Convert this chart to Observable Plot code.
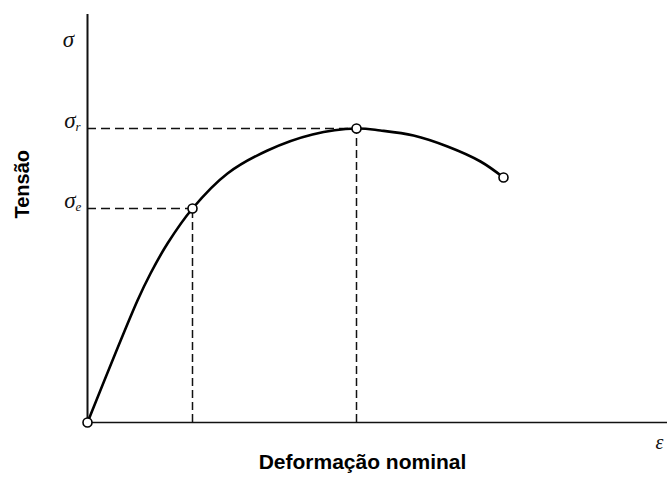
<!DOCTYPE html>
<html>
<head>
<meta charset="utf-8">
<script src="https://cdn.jsdelivr.net/npm/d3@7"></script>
<script src="https://cdn.jsdelivr.net/npm/@observablehq/plot@0.6"></script>
<style>
  html, body { margin: 0; padding: 0; background: #fff; overflow: hidden; }
</style>
</head>
<body>
<div id="chart"></div>
<script>
// Engineering stress–strain curve of a ductile metal (schematic)
const strain = [0, 0.050, 0.063, 0.080, 0.105, 0.140, 0.180, 0.225, 0.269, 0.293, 0.326, 0.360, 0.393, 0.416];
const stress = [0, 122, 149, 179, 214, 249, 272, 288, 294, 292, 287, 276, 261, 245];

// Marked points: origin, yield (σe), ultimate (σr), fracture
const keyNames = ["origem", "escoamento", "ruptura", "fratura"];
const keyStrain = [0, 0.105, 0.269, 0.416];
const keyStress = [0, 214, 294, 245];

const curve = strain.map((e, i) => ({e, s: stress[i]}));
const keys = keyNames.map((n, i) => ({n, e: keyStrain[i], s: keyStress[i]}));
const guides = keys.filter(d => d.n === "escoamento" || d.n === "ruptura");

const serif = "'Liberation Serif', 'DejaVu Serif', serif";
const sans = "'Liberation Sans', Arial, sans-serif";

const chart = Plot.plot({
  width: 667,
  height: 479,
  marginTop: 14,
  marginBottom: 57,
  marginLeft: 87,
  marginRight: 0,
  x: {domain: [0, 0.58], axis: null},
  y: {domain: [0, 408], axis: null},
  marks: [
    // dashed guides to the axes
    Plot.ruleY(guides, {y: "s", x1: 0, x2: "e", stroke: "#111", strokeWidth: 1.5, strokeDasharray: "9,5"}),
    Plot.ruleX(guides, {x: "e", y1: 0, y2: "s", stroke: "#111", strokeWidth: 1.5, strokeDasharray: "8,4"}),
    // axes
    Plot.ruleX([0], {y1: 0, y2: 408, stroke: "#111", strokeWidth: 2}),
    Plot.ruleY([0], {x1: 0, x2: 0.58, stroke: "#111", strokeWidth: 1.6}),
    // curve
    Plot.line(curve, {x: "e", y: "s", curve: "catmull-rom", stroke: "#000", strokeWidth: 2.6}),
    Plot.dot(keys, {x: "e", y: "s", r: 4.5, fill: "#fff", stroke: "#000", strokeWidth: 1.6}),
    // axis symbols
    Plot.text(["σ"], {frameAnchor: "top-left", dx: -19, dy: 16, textAnchor: "middle", fontSize: 23, fontStyle: "italic", fontFamily: serif, fill: "#111"}),
    Plot.text(guides, {x: 0, y: "s", text: () => "σ", dx: -12, dy: -8, textAnchor: "end", fontSize: 23, fontStyle: "italic", fontFamily: serif, fill: "#111"}),
    Plot.text(guides, {x: 0, y: "s", text: d => d.n === "ruptura" ? "r" : "e", dx: -12, dy: -2, textAnchor: "start", fontSize: 13, fontStyle: "italic", fontFamily: serif, fill: "#111"}),
    Plot.text(["ε"], {x: 0.58, y: 0, dx: -12, dy: 20, textAnchor: "start", fontSize: 20, fontStyle: "italic", fontFamily: serif, fill: "#111"}),
    // axis titles
    Plot.text(["Tensão"], {frameAnchor: "left", dx: -65, rotate: -90, fontSize: 20, fontWeight: "bold", fontFamily: sans, fill: "#000"}),
    Plot.text(["Deformação nominal"], {frameAnchor: "bottom", dx: -15, dy: 46, fontSize: 21, fontWeight: "bold", fontFamily: sans, fill: "#000"})
  ]
});
chart.style.overflow = "hidden";
document.getElementById("chart").append(chart);
</script>
</body>
</html>
